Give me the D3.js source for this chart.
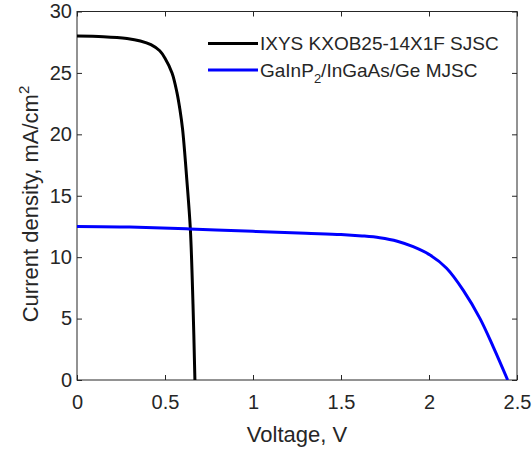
<!DOCTYPE html>
<html>
<head>
<meta charset="utf-8">
<script src="https://cdn.jsdelivr.net/npm/d3@7"></script>
<style>
  body { margin: 0; background: #fff; }
  svg text { font-family: "Liberation Sans", Arial, Helvetica, sans-serif; fill: #262626; }
</style>
</head>
<body>
<div id="chart"></div>
<script>
// single junction cell (black)
const sjVoltage = [0, 0.15, 0.284, 0.36, 0.42, 0.47, 0.50, 0.54, 0.568, 0.585, 0.600, 0.624, 0.644, 0.659, 0.670];
const sjCurrent = [28.0, 27.95, 27.8, 27.6, 27.3, 26.8, 26.2, 25.0, 23.4, 22.0, 20.4, 16.3, 12.3, 6.2, 0];
// multi junction cell (blue)
const mjVoltage = [0, 0.3, 0.64, 1.0, 1.3, 1.5, 1.62, 1.72, 1.82, 1.91, 2.006, 2.1, 2.195, 2.29, 2.365, 2.447];
const mjCurrent = [12.5, 12.45, 12.3, 12.1, 11.95, 11.85, 11.73, 11.58, 11.3, 10.85, 10.17, 9.1, 7.3, 5.0, 2.7, 0];

const xTicks = [0, 0.5, 1, 1.5, 2, 2.5];
const yTicks = [0, 5, 10, 15, 20, 25, 30];
const seriesNames = ['IXYS KXOB25-14X1F SJSC', 'GaInP2/InGaAs/Ge MJSC'];
const seriesColors = ['#000000', '#0000ff'];

const width = 532, height = 449;
const margin = { top: 11.5, right: 15, bottom: 69, left: 77 };
const innerW = width - margin.left - margin.right;
const innerH = height - margin.top - margin.bottom;

const svg = d3.select('#chart').append('svg')
  .attr('width', width)
  .attr('height', height);

const g = svg.append('g')
  .attr('transform', `translate(${margin.left},${margin.top})`);

const x = d3.scaleLinear().domain([0, 2.5]).range([0, innerW]);
const y = d3.scaleLinear().domain([0, 30]).range([innerH, 0]);

// axes, ticks pointing inward (matlab style)
const tickLen = 5;
const axisColor = '#262626';
const tickFont = 20;

g.append('g')
  .attr('transform', `translate(0,${innerH})`)
  .call(d3.axisBottom(x).tickValues(xTicks).tickSize(-tickLen).tickPadding(15).tickFormat(d3.format('')))
  .call(a => a.select('.domain').remove())
  .call(a => a.selectAll('line').attr('stroke', axisColor))
  .call(a => a.selectAll('text').attr('font-size', tickFont).attr('fill', axisColor).attr('font-family', null));

g.append('g')
  .call(d3.axisLeft(y).tickValues(yTicks).tickSize(-tickLen).tickPadding(5))
  .call(a => a.select('.domain').remove())
  .call(a => a.selectAll('line').attr('stroke', axisColor))
  .call(a => a.selectAll('text').attr('font-size', tickFont).attr('fill', axisColor).attr('font-family', null));

// mirrored ticks on top and right
g.append('g')
  .call(d3.axisTop(x).tickValues(xTicks).tickSize(-tickLen).tickFormat(''))
  .call(a => a.select('.domain').remove())
  .call(a => a.selectAll('line').attr('stroke', axisColor));

g.append('g')
  .attr('transform', `translate(${innerW},0)`)
  .call(d3.axisRight(y).tickValues(yTicks).tickSize(-tickLen).tickFormat(''))
  .call(a => a.select('.domain').remove())
  .call(a => a.selectAll('line').attr('stroke', axisColor));

// box
g.append('rect')
  .attr('width', innerW)
  .attr('height', innerH)
  .attr('fill', 'none')
  .attr('stroke', axisColor)
  .attr('stroke-width', 1);

// curves
const line = d3.line()
  .x(d => x(d[0]))
  .y(d => y(d[1]))
  .curve(d3.curveCatmullRom.alpha(0.5));

const series = [
  sjVoltage.map((v, i) => [v, sjCurrent[i]]),
  mjVoltage.map((v, i) => [v, mjCurrent[i]])
];

g.append('defs').append('clipPath').attr('id', 'clip')
  .append('rect').attr('width', innerW).attr('height', innerH);

g.selectAll('.curve')
  .data(series)
  .enter()
  .append('path')
  .attr('class', 'curve')
  .attr('clip-path', 'url(#clip)')
  .attr('d', line)
  .attr('fill', 'none')
  .attr('stroke', (d, i) => seriesColors[i])
  .attr('stroke-width', 3);

// legend
const legend = g.append('g').attr('transform', 'translate(131,32)');
seriesNames.forEach((name, i) => {
  const row = legend.append('g').attr('transform', `translate(0,${i * 26.5})`);
  row.append('line')
    .attr('x1', 0).attr('x2', 50)
    .attr('stroke', seriesColors[i])
    .attr('stroke-width', 3);
  const t = row.append('text')
    .attr('x', 52)
    .attr('y', 6.5)
    .attr('font-size', 19);
  if (name.includes('P2')) {
    const parts = name.split('P2');
    t.append('tspan').text(parts[0] + 'P');
    t.append('tspan').attr('dy', 6).attr('font-size', 13).text('2');
    t.append('tspan').attr('dy', -6).text(parts[1]);
  } else {
    t.text(name);
  }
});

// axis labels
svg.append('text')
  .attr('x', margin.left + innerW / 2)
  .attr('y', 442)
  .attr('text-anchor', 'middle')
  .attr('font-size', 22)
  .text('Voltage, V');

const yl = svg.append('text')
  .attr('transform', 'translate(38,204) rotate(-90)')
  .attr('text-anchor', 'middle')
  .attr('font-size', 22);
yl.append('tspan').text('Current density, mA/cm');
yl.append('tspan').attr('dy', -9).attr('font-size', 15).text('2');
</script>
</body>
</html>
